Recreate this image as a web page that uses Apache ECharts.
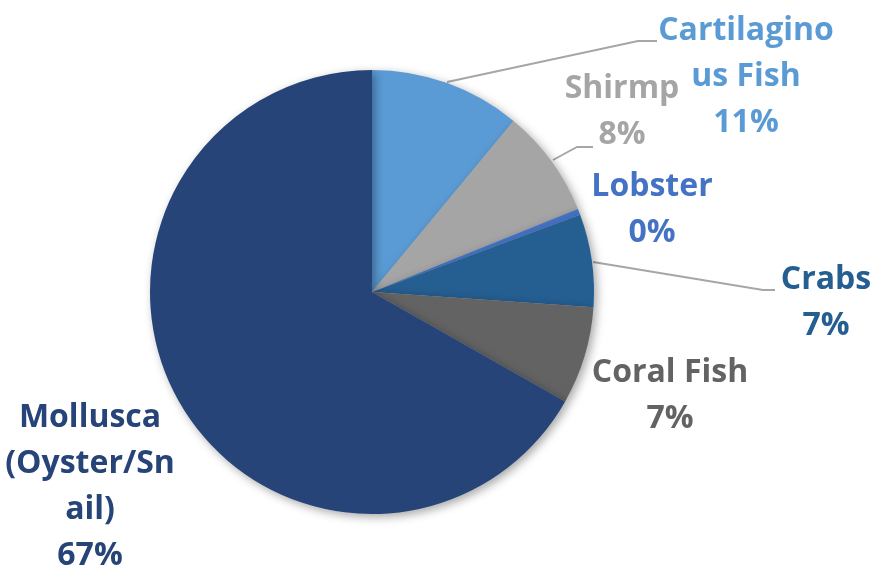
<!DOCTYPE html>
<html><head><meta charset="utf-8">
<script src="https://cdn.jsdelivr.net/npm/echarts@6/dist/echarts.min.js"></script>
<style>html,body{margin:0;padding:0;background:#fff}#c{width:872px;height:571px}</style>
</head><body><div id="c"></div>
<script>
const categories = ['Cartilagino\nus Fish', 'Shirmp', 'Lobster', 'Crabs', 'Coral Fish', 'Mollusca\n(Oyster/Sn\nail)'];
const values = [11.0, 7.9, 0.45, 6.75, 7.1, 66.8];
const colors = ['#5B9BD5', '#A5A5A5', '#4472C4', '#255E91', '#636363', '#264478'];

// label placement (layout only)
const labelPos = [[746, 77], [622, 112], [652, 210], [826, 303], [670, 396], [90, 487]];
const leaderPts = [
  [[447, 82], [638, 41], [657, 41]],
  [[553, 160], [577, 147], [593, 147]],
  null,
  [[593, 262], [763, 290], [775, 290]],
  null,
  null
];

const chart = echarts.init(document.getElementById('c'));
chart.setOption({
  animation: false,
  series: [{
    type: 'pie',
    center: [372, 292],
    radius: 222,
    startAngle: 90,
    clockwise: true,
    percentPrecision: 0,
    itemStyle: {
      shadowBlur: 10, shadowColor: 'rgba(0,0,0,0.35)', shadowOffsetX: 3, shadowOffsetY: 3
    },
    label: {
      show: true,
      position: 'outside',
      alignTo: 'none',
      overflow: 'none',
      formatter: '{b}\n{d}%',
      fontFamily: 'Open Sans',
      fontWeight: 'bold',
      fontSize: 32,
      lineHeight: 46,
      align: 'center'
    },
    labelLine: { show: true, lineStyle: { color: '#A6A6A6', width: 1.8 } },
    labelLayout: function (p) {
      const i = p.dataIndex;
      const o = { x: labelPos[i][0], y: labelPos[i][1], align: 'center', verticalAlign: 'middle' };
      if (leaderPts[i]) o.labelLinePoints = leaderPts[i];
      return o;
    },
    emphasis: { disabled: true },
    data: categories.map((c, i) => ({
      name: c,
      value: values[i],
      itemStyle: { color: colors[i] },
      label: { color: colors[i] },
      labelLine: { show: !!leaderPts[i] }
    }))
  }]
});
</script></body></html>
